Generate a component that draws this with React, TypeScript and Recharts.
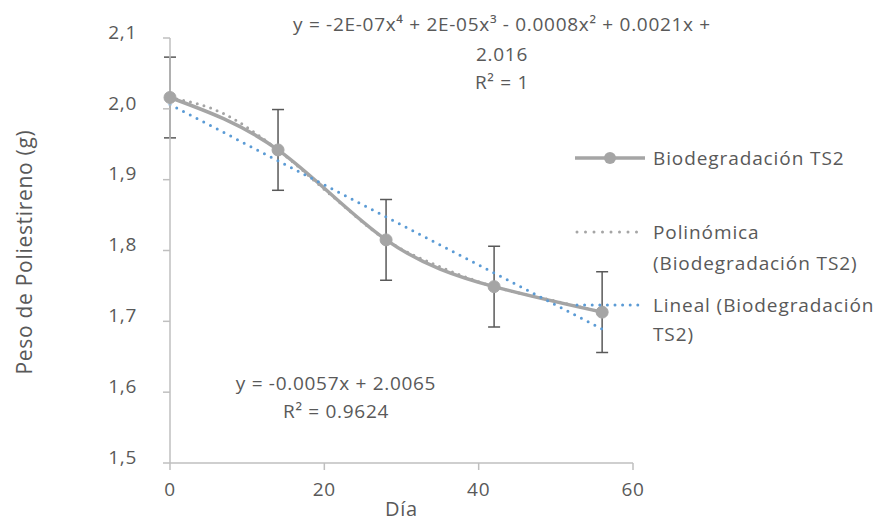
import { ComposedChart, Line, XAxis, YAxis, ErrorBar, Legend } from 'recharts'

// measured series (Día vs peso, g)
const dias = [0, 14, 28, 42, 56]
const peso = [2.016, 1.942, 1.815, 1.749, 1.713]
const errPeso = [0.057, 0.057, 0.057, 0.057, 0.057]

// trend lines
const polyDias = [0, 7, 14, 21, 28, 35, 42, 49, 56]
const polyPeso = [2.016, 1.993, 1.942, 1.877, 1.815, 1.777, 1.749, 1.731, 1.713]
const linDias = [0, 56]
const linPeso = [2.006, 1.689]

const xTicks = [0, 20, 40, 60]
const yTicks = [1.5, 1.6, 1.7, 1.8, 1.9, 2.0, 2.1]

const mainData = dias.map((x, i) => ({ x, y: peso[i], err: errPeso[i] }))
const polyData = polyDias.map((x, i) => ({ x, y: polyPeso[i] }))
const linData = linDias.map((x, i) => ({ x, y: linPeso[i] }))

const FONT = '"Open Sans", sans-serif'
const TXT = '#595959'
const GRAY = '#A5A5A5'
const BLUE = '#5B9BD5'
const LS = 0.7

function YTick({ x, y, payload }: any) {
  return (
    <text x={x} y={y - 6} dy="0.355em" textAnchor="end" fill={TXT} fontSize={19} letterSpacing={LS} fontFamily={FONT}>
      {payload.value.toFixed(1).replace('.', ',')}
    </text>
  )
}

function LegendBox() {
  const t = { fill: TXT, fontSize: 19, fontFamily: FONT, letterSpacing: 0.9 }
  return (
    <svg width={300} height={220} style={{ overflow: 'visible' }}>
      <line x1={0} y1={18} x2={70} y2={18} stroke={GRAY} strokeWidth={3.5} />
      <circle cx={35} cy={18} r={6} fill={GRAY} />
      <text x={78} y={18} dy="0.355em" {...t}>Biodegradación TS2</text>

      <line x1={2} y1={92} x2={68} y2={92} stroke={GRAY} strokeWidth={3} strokeDasharray="0 8.5" strokeLinecap="round" />
      <text x={78} y={92} dy="0.355em" {...t}>Polinómica</text>
      <text x={78} y={123} dy="0.355em" {...t}>(Biodegradación TS2)</text>

      <line x1={2} y1={165} x2={68} y2={165} stroke={BLUE} strokeWidth={3} strokeDasharray="0 7.6" strokeLinecap="round" />
      <text x={78} y={165} dy="0.355em" {...t}>Lineal (Biodegradación</text>
      <text x={78} y={194} dy="0.355em" {...t}>TS2)</text>
    </svg>
  )
}

export default function App() {
  return (
    <div style={{ position: 'absolute', left: 0, top: 0, width: 878, height: 523, background: '#fff' }}>
      <ComposedChart width={878} height={523} margin={{ top: 38, right: 245, bottom: 0, left: 0 }}>
        <XAxis
          dataKey="x"
          type="number"
          domain={[0, 60]}
          ticks={xTicks}
          allowDuplicatedCategory={false}
          height={60}
          stroke="#BFBFBF"
          strokeWidth={1.5}
          tickSize={7}
          tickMargin={13}
          tick={{ fill: TXT, fontSize: 19, fontFamily: FONT, letterSpacing: LS }}
          label={{ value: 'Día', position: 'insideBottom', offset: 7, fill: TXT, fontSize: 20, fontFamily: FONT, letterSpacing: LS }}
        />
        <YAxis
          type="number"
          domain={[1.5, 2.1]}
          ticks={yTicks}
          width={170}
          stroke="#BFBFBF"
          strokeWidth={1.5}
          tickSize={7}
          tickMargin={26}
          tick={<YTick />}
        />
        <Legend
          layout="vertical"
          align="center"
          verticalAlign="middle"
          wrapperStyle={{ left: 575, top: 140, width: 300 }}
          content={() => <LegendBox />}
        />
        <Line
          data={mainData}
          dataKey="y"
          type="natural"
          stroke={GRAY}
          strokeWidth={3.5}
          dot={{ r: 6, fill: GRAY, stroke: GRAY, strokeWidth: 1 }}
          activeDot={false}
          isAnimationActive={false}
        >
          <ErrorBar dataKey="err" width={6} stroke="#595959" strokeWidth={1.5} direction="y" />
        </Line>
        <Line
          data={polyData}
          dataKey="y"
          type="monotone"
          stroke={GRAY}
          strokeWidth={3}
          strokeDasharray="0 7"
          strokeLinecap="round"
          dot={false}
          activeDot={false}
          isAnimationActive={false}
        />
        <Line
          data={linData}
          dataKey="y"
          type="linear"
          stroke={BLUE}
          strokeWidth={3}
          strokeDasharray="0 7.6"
          strokeLinecap="round"
          dot={false}
          activeDot={false}
          isAnimationActive={false}
        />
      </ComposedChart>
      <svg
        width={878}
        height={523}
        style={{ position: 'absolute', left: 0, top: 0, pointerEvents: 'none' }}
      >
        <text
          transform="translate(25,252) rotate(-90)"
          textAnchor="middle"
          dy="0.355em"
          fill={TXT}
          fontSize={21}
          letterSpacing={LS}
          fontFamily={FONT}
        >
          Peso de Poliestireno (g)
        </text>
        <g fill={TXT} fontSize={19} letterSpacing={LS} fontFamily={FONT} textAnchor="middle">
          <text x={502} y={24} dy="0.355em">y = -2E-07x⁴ + 2E-05x³ - 0.0008x² + 0.0021x +</text>
          <text x={502} y={54} dy="0.355em">2.016</text>
          <text x={502} y={82} dy="0.355em">R² = 1</text>
          <text x={336} y={383} dy="0.355em">y = -0.0057x + 2.0065</text>
          <text x={336} y={411} dy="0.355em">R² = 0.9624</text>
        </g>
      </svg>
    </div>
  )
}
